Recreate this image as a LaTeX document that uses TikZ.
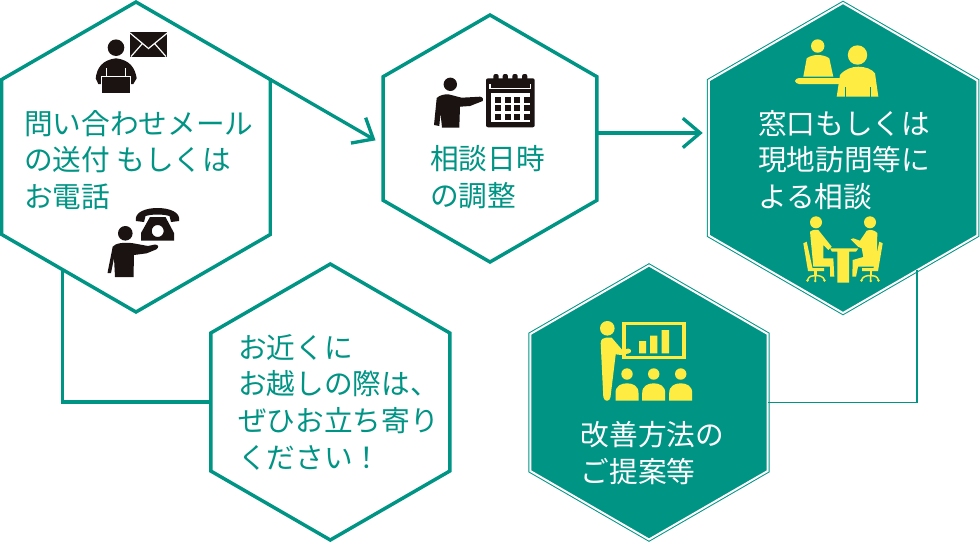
\documentclass[tikz,border=0pt]{standalone}
\usepackage{fontspec}
\setmainfont{Noto Sans CJK JP}
\usepackage{xcolor}
\usepackage{tikz}
\usetikzlibrary{arrows.meta,calc,shapes.geometric}
\definecolor{HexTeal}{HTML}{009485}
\definecolor{IconBlack}{HTML}{1A1311}
\definecolor{IconYellow}{HTML}{FFEC43}
\tikzset{
  hexline/.style={regular polygon, regular polygon sides=6, shape border rotate=30,
        draw=HexTeal, fill=white, line width=2.6pt, inner sep=0pt, outer sep=0pt},
  hexsolid/.style={regular polygon, regular polygon sides=6, shape border rotate=30,
        draw=HexTeal, double=white, double distance=1.5pt, fill=HexTeal,
        line width=.75pt, inner sep=0pt, outer sep=0pt},
  hextext/.style={anchor=west, align=left, inner sep=0pt, text=HexTeal,
        font=\fontsize{21.5pt}{27.5pt}\selectfont},
  hextextwhite/.style={hextext, text=white},
  thickflow/.style={draw=HexTeal, line width=2.5pt},
  thinflow/.style={draw=HexTeal, line width=1.1pt},
  arrowflow/.style={thickflow, -{Straight Barb[length=13pt,width=22pt]}}
}
\begin{document}
\begin{tikzpicture}[x=.75pt,y=-.75pt]
  \useasboundingbox (0,0) rectangle (980,543);
  % hexagons
  \node[hexline, minimum size=232.5pt] (hexmail) at (136,157) {};
  \node[hexline, minimum size=185.25pt] (hexdate) at (490,138.5) {};
  \node[hexsolid, minimum size=232.5pt] (hexwindow) at (843,158) {};
  \node[hexsolid, minimum size=205.5pt] (hexoffer) at (649,402.5) {};
  \node[hexline, minimum size=207pt] (hexvisit) at (330.3,402) {};
  % labels
  \node[hextext] (textmail) at (24,160) {問い合わせメール\\の送付 もしくは\\お電話};
  \node[hextext] (textdate) at (430,177) {相談日時\\の調整};
  \node[hextextwhite] (textwindow) at (758,160) {窓口もしくは\\現地訪問等に\\よる相談};
  \node[hextextwhite] (textoffer) at (580.5,453) {改善方法の\\ご提案等};
  \node[hextext] (textvisit) at (238,402) {お近くに\\お越しの際は、\\ぜひお立ち寄り\\ください！};
  % connectors
  \coordinate (dateout) at ($(hexdate.corner 6)!.455!(hexdate.corner 5)$);
  \draw[arrowflow, shorten >=6.5pt] (hexmail.corner 6) -- ($(hexdate.corner 2)!.55!(hexdate.corner 3)$);
  \draw[arrowflow, shorten >=4.5pt] (dateout) -- (dateout -| hexwindow.west);
  \draw[thickflow] ($(hexmail.corner 3)!.45!(hexmail.corner 4)$) |- (hexvisit.west);
  \draw[thinflow] ($(hexwindow.corner 5)!.45!(hexwindow.corner 4)$) |- (hexoffer.east);
  % person with laptop and envelope
  \fill[IconBlack] (116,47.7) circle (8.3);
  \fill[IconBlack] (95.7,78.3) .. controls (97,68) and (102,60) .. (116,58.3) .. controls (130,60) and (135,68) .. (136.7,78.3) -- (133.3,84) -- (98.3,84) -- cycle;
  \draw[white, line width=.8pt] (106.7,68) -- (106.7,76.7) (125.7,68) -- (125.7,76.7);
  \fill[IconBlack, draw=white, line width=.5pt] (101,76.7) rectangle (130.7,93.3);
  \fill[IconBlack] (130,32.3) rectangle (167.3,57.3);
  \draw[white, line width=.9pt] (130,33) -- (148.5,48.5) -- (167.3,33) (131,56.5) -- (142,44) (166,56.5) -- (155,44);
  % person with telephone
  \fill[IconBlack] (125.3,233.3) circle (7.3);
  \fill[IconBlack] (112.7,246.7) .. controls (115,243) and (125,242) .. (133.3,243.3) -- (148,246) -- (155,244.5) .. controls (159,244.5) and (159,248) .. (156,249.5) -- (146.7,253.3) -- (134,255) -- (133.5,277) -- (115,277) -- (114,258) -- (111,273) -- (107.5,273) -- cycle;
  \fill[IconBlack] (136,221) .. controls (134,212) and (146,208) .. (157.5,208) .. controls (169,208) and (181,212) .. (179,221) -- (171,222) -- (169.5,216) .. controls (163,214) and (152,214) .. (145.5,216) -- (144,222) -- cycle;
  \fill[IconBlack, even odd rule] (150,217) -- (165.5,217) -- (174,233) -- (174,240.5) -- (141,240.5) -- (141,233) -- cycle (157.7,231) circle (6);
  % person with calendar
  \fill[IconBlack] (450.3,84.3) circle (6.7);
  \fill[IconBlack] (436.7,98) .. controls (440,95) and (444,94.3) .. (448.3,94.3) -- (461.7,97.7) -- (480,96.7) .. controls (483,97) and (484,100) .. (482.7,101) -- (470,106) -- (460,106.7) -- (459.3,127.7) -- (442,127.7) -- (440.5,113) -- (439.3,126) -- (434,125) -- cycle;
  \fill[IconBlack, rounded corners=1.5pt] (486,78.3) rectangle (534.7,127.3);
  \fill[white] (491,93) rectangle (530,122);
  \draw[white, line width=.8pt] (490,84) -- (490,88.5) -- (530.7,88.5) -- (530.7,84);
  \foreach \cx in {496,505.3,515,524.7} {
    \fill[IconBlack, rounded corners=1.5pt] (\cx-2.6,74) rectangle (\cx+2.6,87.5);
    \foreach \cy in {100,108.3,116.7}
      \fill[IconBlack] (\cx+2.3-3,\cy-3) rectangle (\cx+2.3+3,\cy+3);
  }
  % counter
  \fill[IconYellow] (817.7,46) circle (6.7);
  \fill[IconYellow] (803.3,76.7) -- (806.7,58.3) .. controls (810,56) and (814,55) .. (817.7,55) .. controls (822,55) and (826,56) .. (829.3,58.3) -- (833.3,76.7) -- cycle;
  \fill[IconYellow, rounded corners=2.9pt] (795,78) rectangle (845,84);
  \fill[IconYellow] (857.5,55) circle (9.7);
  \fill[IconYellow] (836.7,96.7) -- (840,75) .. controls (845,69) and (852,66.7) .. (858.3,66.7) .. controls (865,66.7) and (872,69) .. (875,73.3) -- (878.3,96.7) -- cycle;
  \draw[HexTeal, line width=.5pt] (845.7,87) -- (845.7,96.7) (870,87) -- (870,96.7);
  % meeting
  \fill[IconYellow] (816,222.3) circle (6) (870,222.3) circle (6);
  \fill[IconYellow] (830,248.3) -- (858.3,248.3) -- (856,251.7) -- (849,251.7) -- (849,282.7) -- (837.3,282.7) -- (837.3,251.7) -- (832,251.7) -- cycle;
  \fill[IconYellow] (810,231.7) .. controls (813,229.5) and (816,229.5) .. (818.3,230) -- (831.7,246.7) -- (828.3,250) -- (823.3,245) -- (823.3,258.3) -- (833.3,258.3) -- (834.3,276.7) -- (830,276.7) -- (830,266.7) -- (813.3,266.7) -- cycle;
  \fill[IconYellow] (850.7,239.3) -- (853.3,238.3) -- (860,240.7) -- (866.7,230.7) .. controls (870,229.5) and (874,229.5) .. (877.3,233) -- (876.7,266.7) -- (858,266.7) -- (856,276.7) -- (852.3,276.7) -- (852.7,260) -- (863.3,257) -- (861.7,248.3) -- (858,246.7) -- cycle;
  \foreach \flip/\off in {1/0,-1/1686} {
    \begin{scope}[shift={(\off,0)},xscale=\flip]
      \fill[IconYellow] (803.3,243.3) -- (806.7,241.7) -- (812.5,268) -- (824,268) -- (824,271) -- (808,271) -- cycle;
      \fill[IconYellow] (814,270) rectangle (816.5,276);
      \draw[IconYellow, line width=1.1pt] (807.5,280) .. controls (809,276) and (812,275.5) .. (815.3,275.5) .. controls (819,275.5) and (823,276) .. (824.5,280) (815.3,275.5) -- (815.3,280);
      \fill[IconYellow] (807.5,280.5) circle (1.4) (815.3,281) circle (1.4) (824.5,280.5) circle (1.4);
    \end{scope}
  }
  % presenter and audience
  \fill[IconYellow] (607.3,328.3) circle (7.3);
  \fill[IconYellow] (600.7,343.3) .. controls (601,339) and (603,337.7) .. (606,337.7) -- (611.7,337.7) -- (622.3,350) -- (628.3,348.5) .. controls (632,349) and (632,353) .. (628.3,353.5) -- (621,355) -- (615.7,354.3) -- (610.5,397) .. controls (610,402) and (604,402) .. (603.3,397) -- cycle;
  \draw[IconYellow, line width=2.4pt] (624,323.5) rectangle (684,357.5);
  \fill[IconYellow] (639,341) rectangle (646,353.3) (650,335.7) rectangle (657.3,353.3) (661.7,330) rectangle (669,353.3);
  \foreach \cx in {627,653.7,680.7} {
    \fill[IconYellow] (\cx,374) circle (5.7);
    \fill[IconYellow] (\cx-11.5,400.7) -- (\cx-11.5,393) .. controls (\cx-11.5,386) and (\cx-6,383.3) .. (\cx,383.3) .. controls (\cx+6,383.3) and (\cx+11.5,386) .. (\cx+11.5,393) -- (\cx+11.5,400.7) -- cycle;
  }
\end{tikzpicture}
\end{document}
